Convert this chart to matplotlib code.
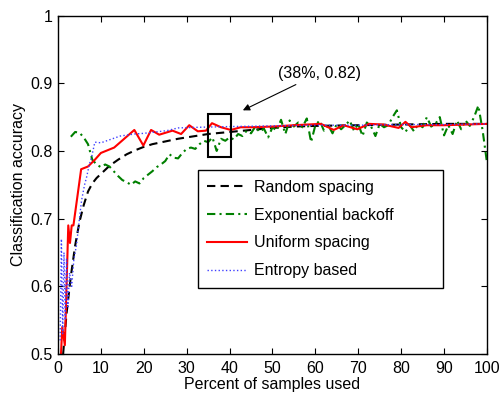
import matplotlib
matplotlib.use("Agg")
import matplotlib.pyplot as plt
from matplotlib.patches import Rectangle

plt.rcParams["font.family"] = ["Liberation Sans", "DejaVu Sans"]
plt.rcParams["font.size"] = 11.5

# ── data ─────────────────────────────────────────────────────────────────────
random_x = [1.2, 2, 3, 4, 5, 6, 7, 8, 9, 10, 12, 14, 16, 18, 20, 22, 25, 28,
            31, 35, 40, 45, 50, 55, 60, 70, 80, 90, 100]
random_y = [0.50, 0.56, 0.615, 0.66, 0.695, 0.72, 0.74, 0.752, 0.76, 0.766,
            0.778, 0.787, 0.795, 0.801, 0.806, 0.810, 0.814, 0.818, 0.821,
            0.825, 0.828, 0.831, 0.834, 0.836, 0.837, 0.838, 0.839, 0.84, 0.84]

expo_x = list(range(3, 101))
expo_y = [0.821, 0.828, 0.827, 0.820, 0.810, 0.787, 0.780, 0.776, 0.780, 0.777,
          0.770, 0.763, 0.757, 0.754, 0.750, 0.755, 0.752, 0.760, 0.765, 0.770,
          0.776, 0.780, 0.785, 0.795, 0.790, 0.789, 0.797, 0.803, 0.805, 0.803,
          0.810, 0.815, 0.813, 0.820, 0.800, 0.818, 0.815, 0.820, 0.817, 0.825,
          0.822, 0.830, 0.826, 0.836, 0.828, 0.833, 0.820, 0.835, 0.830, 0.846,
          0.825, 0.845, 0.836, 0.842, 0.835, 0.848, 0.813, 0.838, 0.845, 0.830,
          0.838, 0.826, 0.840, 0.832, 0.838, 0.845, 0.830, 0.840, 0.822, 0.842,
          0.836, 0.822, 0.840, 0.835, 0.838, 0.850, 0.860, 0.835, 0.828, 0.838,
          0.829, 0.840, 0.835, 0.850, 0.836, 0.840, 0.850, 0.823, 0.838, 0.825,
          0.845, 0.832, 0.845, 0.837, 0.850, 0.867, 0.830, 0.783]

uniform_x = [0.7, 1.0, 1.6, 2.4, 2.8, 3.2, 3.6, 5.4, 7.0, 8.6, 10.0, 13.1,
             17.8, 19.9, 21.7, 23.6, 26.7, 28.7, 30.6, 32.6, 34.5, 35.9, 38.0,
             40.3, 42.6, 45.0, 50, 55, 61.3, 64.3, 66.6, 69.8, 72.5, 75.9,
             79.4, 81.0, 82.4, 86, 90, 95, 100]
uniform_y = [0.50, 0.54, 0.513, 0.69, 0.664, 0.69, 0.69, 0.773, 0.777, 0.787,
             0.797, 0.805, 0.831, 0.808, 0.831, 0.824, 0.830, 0.825, 0.838,
             0.829, 0.830, 0.841, 0.835, 0.831, 0.835, 0.835, 0.836, 0.838,
             0.840, 0.831, 0.838, 0.832, 0.840, 0.839, 0.834, 0.843, 0.835,
             0.838, 0.838, 0.839, 0.840]

entropy_x = [0.5, 0.8, 1.1, 1.4, 1.7, 2.0, 2.3, 2.7, 3.2, 3.7, 4.3, 5.0, 5.5,
             6.2, 6.7, 7.3, 7.8, 8.6, 10, 14.5, 17.8, 20, 25.4, 28, 33, 40,
             50, 60, 70, 80, 90, 100]
entropy_y = [0.52, 0.67, 0.53, 0.65, 0.55, 0.64, 0.57, 0.62, 0.60, 0.64, 0.66,
             0.70, 0.727, 0.75, 0.762, 0.78, 0.79, 0.813, 0.812, 0.822, 0.825,
             0.826, 0.830, 0.834, 0.835, 0.836, 0.837, 0.838, 0.838, 0.839,
             0.839, 0.84]

# ── figure ───────────────────────────────────────────────────────────────────
fig = plt.figure(figsize=(5.02, 3.94), dpi=100)
ax = fig.add_axes([0.1155, 0.1015, 0.8545, 0.859])

ax.plot(random_x, random_y, "k--", lw=1.5, dashes=(4, 2.5),
        label="Random spacing")
ax.plot(expo_x, expo_y, color="#008000", lw=1.5, dashes=(4, 2, 1, 2),
        label="Exponential backoff")
ax.plot(uniform_x, uniform_y, "-", color="red", lw=1.5,
        label="Uniform spacing")
ax.plot(entropy_x, entropy_y, ":", color="#4040ff", lw=1.0,
        label="Entropy based")

ax.add_patch(Rectangle((35.0, 0.791), 5.3, 0.063, fill=False,
                       edgecolor="black", lw=1.5, zorder=5))
ax.annotate("(38%, 0.82)", xy=(43.1, 0.86), xytext=(51.3, 0.915),
            va="center", ha="left",
            arrowprops=dict(arrowstyle="-|>", color="black", lw=0.8,
                            shrinkA=2, shrinkB=0, mutation_scale=10))

ax.set_xlim(0, 100)
ax.set_ylim(0.5, 1.0)
ax.set_xticks(range(0, 101, 10))
ax.set_yticks([0.5, 0.6, 0.7, 0.8, 0.9, 1.0])
ax.set_yticklabels(["0.5", "0.6", "0.7", "0.8", "0.9", "1"])
ax.tick_params(direction="in", top=True, right=True, length=4, width=0.8,
               labelsize=11.5)
ax.tick_params(axis="x", pad=5)
ax.tick_params(axis="y", pad=4)
for s in ax.spines.values():
    s.set_linewidth(1.0)
ax.set_xlabel("Percent of samples used", labelpad=1)
ax.set_ylabel("Classification accuracy", labelpad=3)

# legend box is wider than its content in the original
leg = ax.legend(loc="upper left", bbox_to_anchor=(0.326, 0.204, 0.572, 0.339),
                mode="expand", handlelength=2.5, handletextpad=0.4,
                labelspacing=0.8, borderpad=0.6, borderaxespad=0,
                fancybox=False, framealpha=1)
leg.get_frame().set_edgecolor("black")
leg.get_frame().set_linewidth(1.0)

fig.savefig("out.png", dpi=100)
